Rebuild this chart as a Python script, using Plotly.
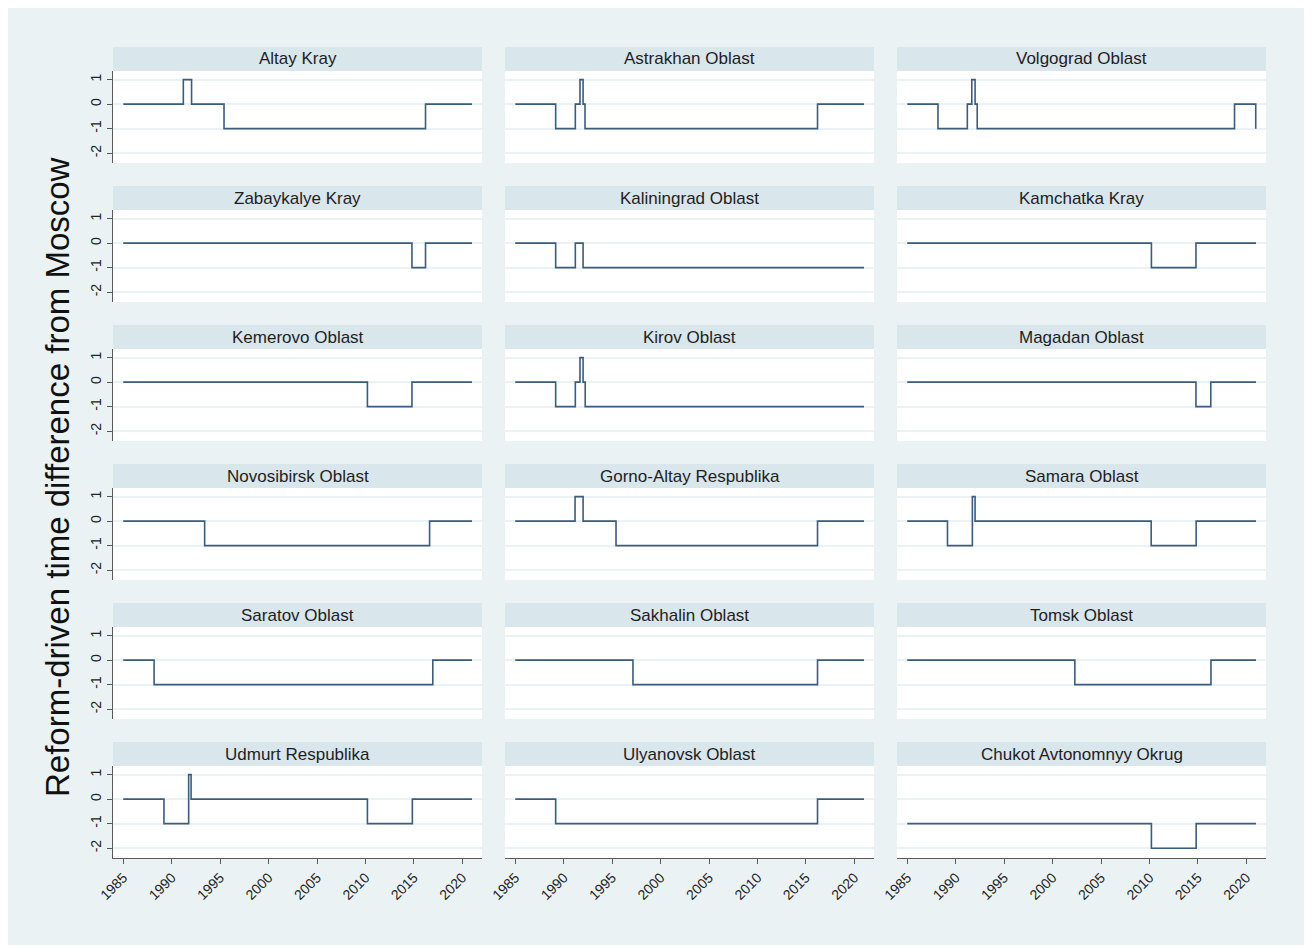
import plotly.graph_objects as go
from plotly.subplots import make_subplots

# panel titles, in grid order (row by row, 3 per row)
regions = [
    "Altay Kray", "Astrakhan Oblast", "Volgograd Oblast",
    "Zabaykalye Kray", "Kaliningrad Oblast", "Kamchatka Kray",
    "Kemerovo Oblast", "Kirov Oblast", "Magadan Oblast",
    "Novosibirsk Oblast", "Gorno-Altay Respublika", "Samara Oblast",
    "Saratov Oblast", "Sakhalin Oblast", "Tomsk Oblast",
    "Udmurt Respublika", "Ulyanovsk Oblast", "Chukot Avtonomnyy Okrug",
]

# change points (fractional years) and the difference in hours that holds from each point
altay_years = [1985, 1991.2, 1992.05, 1995.4, 2016.2, 2021]
altay_diff = [0, 1, 0, -1, 0, 0]
astrakhan_years = [1985, 1989.17, 1991.2, 1991.68, 1992.0, 1992.2, 2016.2, 2021]
astrakhan_diff = [0, -1, 0, 1, 0, -1, 0, 0]
volgograd_years = [1985, 1988.17, 1991.2, 1991.66, 1992.0, 1992.22, 2018.78, 2020.97]
volgograd_diff = [0, -1, 0, 1, 0, -1, 0, -1]
zabaykalye_years = [1985, 2014.8, 2016.2, 2021]
zabaykalye_diff = [0, -1, 0, 0]
kaliningrad_years = [1985, 1989.17, 1991.2, 1992.0, 2021]
kaliningrad_diff = [0, -1, 0, -1, -1]
kamchatka_years = [1985, 2010.2, 2014.8, 2021]
kamchatka_diff = [0, -1, 0, 0]
kemerovo_years = [1985, 2010.2, 2014.8, 2021]
kemerovo_diff = [0, -1, 0, 0]
kirov_years = [1985, 1989.17, 1991.2, 1991.68, 1992.0, 1992.22, 2021]
kirov_diff = [0, -1, 0, 1, 0, -1, -1]
magadan_years = [1985, 2014.8, 2016.33, 2021]
magadan_diff = [0, -1, 0, 0]
novosibirsk_years = [1985, 1993.4, 2016.62, 2021]
novosibirsk_diff = [0, -1, 0, 0]
gorno_altay_years = [1985, 1991.17, 1992.0, 1995.4, 2016.2, 2021]
gorno_altay_diff = [0, 1, 0, -1, 0, 0]
samara_years = [1985, 1989.15, 1991.72, 1992.0, 2010.18, 2014.82, 2021]
samara_diff = [0, -1, 1, 0, -1, 0, 0]
saratov_years = [1985, 1988.18, 2016.95, 2021]
saratov_diff = [0, -1, 0, 0]
sakhalin_years = [1985, 1997.15, 2016.2, 2021]
sakhalin_diff = [0, -1, 0, 0]
tomsk_years = [1985, 2002.3, 2016.35, 2021]
tomsk_diff = [0, -1, 0, 0]
udmurt_years = [1985, 1989.2, 1991.75, 1992.0, 2010.2, 2014.84, 2021]
udmurt_diff = [0, -1, 1, 0, -1, 0, 0]
ulyanovsk_years = [1985, 1989.17, 2016.2, 2021]
ulyanovsk_diff = [0, -1, 0, 0]
chukot_years = [1985, 2010.2, 2014.82, 2021]
chukot_diff = [-1, -2, -1, -1]

series = [
    (altay_years, altay_diff), (astrakhan_years, astrakhan_diff), (volgograd_years, volgograd_diff),
    (zabaykalye_years, zabaykalye_diff), (kaliningrad_years, kaliningrad_diff), (kamchatka_years, kamchatka_diff),
    (kemerovo_years, kemerovo_diff), (kirov_years, kirov_diff), (magadan_years, magadan_diff),
    (novosibirsk_years, novosibirsk_diff), (gorno_altay_years, gorno_altay_diff), (samara_years, samara_diff),
    (saratov_years, saratov_diff), (sakhalin_years, sakhalin_diff), (tomsk_years, tomsk_diff),
    (udmurt_years, udmurt_diff), (ulyanovsk_years, ulyanovsk_diff), (chukot_years, chukot_diff),
]

x_ticks = [1985, 1990, 1995, 2000, 2005, 2010, 2015, 2020]
y_ticks = [-2, -1, 0, 1]
y_tick_labels = ["-2", "-1", "0", "1"]

W, H = 1312, 949
OFF = 8  # the page body margin shifts the figure by 8px
ML, MR, MT, MB = 105, 54, 39, 99
PW, PH = W - ML - MR, H - MT - MB

FONT = "Liberation Sans, Arial, sans-serif"
LINE = "#3a5c80"
AXIS = "#5a5a5a"
BG = "#eaf2f3"
STRIP = "#d9e6eb"


# helpers take screen pixel positions and give paper fractions
def fx(px):
    return (px - OFF - ML) / PW


def fy(py):
    return (H - MB - (py - OFF)) / PH


col_px = [(113, 482), (505, 874), (897, 1266)]

fig = make_subplots(rows=6, cols=3)

for i, (name, (xs, ys)) in enumerate(zip(regions, series)):
    r, c = i // 3 + 1, i % 3 + 1
    fig.add_trace(
        go.Scatter(x=xs, y=ys, mode="lines", line=dict(color=LINE, width=1.6, shape="hv"),
                   showlegend=False, hoverinfo="skip"),
        row=r, col=c,
    )
    x0, x1 = col_px[c - 1]
    top = 71 + 139 * (r - 1)
    bottom = top + 92
    bottom_row = r == 6
    first_col = c == 1
    fig.update_xaxes(
        domain=[fx(x0), fx(x1)], range=[1983.94, 2022.03], showgrid=False, zeroline=False,
        tickvals=x_ticks, showticklabels=bottom_row, ticks="outside" if bottom_row else "",
        tickangle=-45, ticklen=5, tickcolor=AXIS, showline=bottom_row, linecolor=AXIS,
        linewidth=1, tickfont=dict(family=FONT, size=14, color="#222"), fixedrange=True,
        row=r, col=c,
    )
    fig.update_yaxes(
        domain=[fy(bottom), fy(top)], range=[-2.4, 1.35], tickvals=y_ticks,
        ticktext=y_tick_labels,
        showgrid=True, gridcolor=BG, gridwidth=1.5, zeroline=False,
        showticklabels=first_col, ticks="outside" if first_col else "", tickangle=-90,
        ticklen=5, tickcolor=AXIS, showline=first_col, linecolor=AXIS, linewidth=1,
        tickfont=dict(family=FONT, size=14, color="#222"), fixedrange=True,
        row=r, col=c,
    )
    # strip header
    fig.add_shape(type="rect", xref="paper", yref="paper", x0=fx(x0), x1=fx(x1),
                  y0=fy(top), y1=fy(top - 24), fillcolor=STRIP, line=dict(width=0))
    fig.add_annotation(text=name, xref="paper", yref="paper", x=(fx(x0) + fx(x1)) / 2,
                       y=fy(top - 12), showarrow=False, xanchor="center", yanchor="middle",
                       font=dict(family=FONT, size=17, color="#1e1e1e"))

# white page edge on the right and bottom of the grey-blue graph region
for (a, b, cc, d) in [(1305, 0, W + OFF, H + OFF), (0, 945, W + OFF, H + OFF)]:
    fig.add_shape(type="rect", xref="paper", yref="paper", x0=fx(a), x1=fx(cc),
                  y0=fy(d), y1=fy(b), fillcolor="white", line=dict(width=0))

fig.add_annotation(text="Reform-driven time difference from Moscow", xref="paper", yref="paper",
                   x=fx(57), y=fy(477), textangle=-90, showarrow=False,
                   xanchor="center", yanchor="middle",
                   font=dict(family=FONT, size=33, color="#111"))

fig.update_layout(
    width=W, height=H, margin=dict(l=ML, r=MR, t=MT, b=MB),
    paper_bgcolor=BG, plot_bgcolor="white", showlegend=False,
)

fig.write_html("out.html")
